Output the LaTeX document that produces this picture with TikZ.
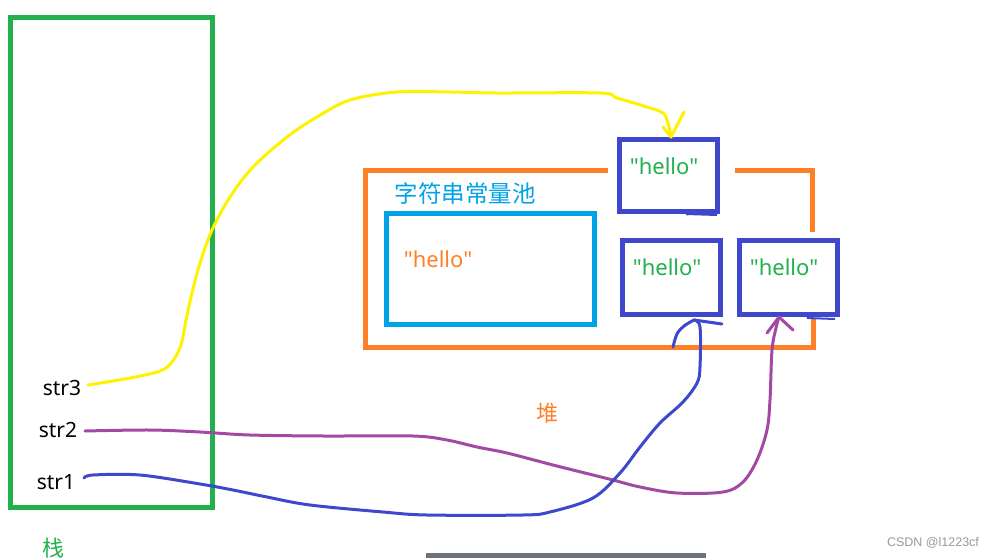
\documentclass[tikz,border=0pt]{standalone}
\usepackage{fontspec}
\setmainfont{Noto Sans}[Ligatures=TeXOff]
\newfontfamily\cjk{Noto Sans CJK SC}
\newfontfamily\wm{Liberation Sans}
\definecolor{cgreen}{HTML}{22B14C}
\definecolor{corange}{HTML}{FF7F27}
\definecolor{ccyan}{HTML}{00A2E8}
\definecolor{cblue}{HTML}{3F48CC}
\definecolor{cpurple}{HTML}{A349A4}
\definecolor{cyellow}{HTML}{FFF200}
\definecolor{cgray}{HTML}{6E7279}
\begin{document}
\begin{tikzpicture}[x=1pt,y=-1pt,
  objbox/.style={draw=cblue,line width=5pt,fill=white,rectangle,inner sep=0pt,minimum width=98pt,minimum height=72pt},
  hellotxt/.style={text=cgreen,font=\fontsize{22}{26}\selectfont,anchor=base,inner sep=0pt},
  strtxt/.style={text=black,font=\fontsize{21}{25}\selectfont,anchor=base,inner sep=0pt},
  cjktxt/.style={font=\cjk\fontsize{22}{26}\selectfont,inner sep=0pt},
  curve/.style={line width=3pt,line cap=round,line join=round}]
\useasboundingbox (0,0) rectangle (996,558);

% stack
\node[draw=cgreen,line width=5pt,rectangle,inner sep=0pt,minimum width=202pt,minimum height=490pt] (stack) at (111,262) {};
\node[cjktxt,text=cgreen] (zhan) at (53,548) {栈};
\node[strtxt] (s3) at (62,395) {str3};
\node[strtxt] (s2) at (58,437) {str2};
\node[strtxt] (s1) at (56,489) {str1};

% heap outline with gaps
\draw[corange,line width=5pt,line join=miter] (608,170) -- (365,170) -- (365,347) -- (813,347) -- (813,318);
\draw[corange,line width=5pt,line join=miter] (735,170) -- (812,170) -- (812,232);
\node[cjktxt,text=corange] (dui) at (547,413) {堆};

% constant pool
\node[cjktxt,text=ccyan,font=\cjk\fontsize{23.5}{27}\selectfont] (pooltitle) at (465,193) {字符串常量池};
\node[draw=ccyan,line width=5pt,rectangle,inner sep=0pt,minimum width=208pt,minimum height=111pt] (pool) at (490,269) {};
\node[hellotxt,text=corange] (ph) at (438,267) {"hello"};

% objects
\node[objbox] (o3) at (668.5,175) {};
\node[objbox,minimum height=74pt] (o1) at (671.5,277.5) {};
\node[objbox,minimum height=74pt] (o2) at (788.5,277.5) {};
\node[hellotxt] (t3) at (664,174) {"hello"};
\node[hellotxt] (t1) at (667,275) {"hello"};
\node[hellotxt] (t2) at (784,275) {"hello"};
\draw[cblue,line width=2pt] (687,215) -- (690,212) (686,214) -- (717,215);
\draw[cblue,line width=2pt] (807,318) -- (810,316) (807,318) -- (835,319);

% bottom bar and watermark
\fill[cgray] (426,553) rectangle (706,558);
\node[text=gray!80,font=\wm\fontsize{12.5}{14}\selectfont,inner sep=0pt] (wm) at (933,543) {CSDN @l1223cf};

% str3 -> o3 (yellow)
\coordinate (y0) at (88,385);
\coordinate (ya) at (671,137);
\draw[cyellow,curve] plot[smooth,tension=0.55] coordinates {(y0) (130,378) (160,371) (172,362) (181,345) (186,320) (192,293) (200,263) (212,230) (230,197) (253,167) (287,137) (317,117) (350,100) (397,92) (450,92) (497,93) (600,93) (617,98) (647,107) (663,113) (668,123) (ya)};
\draw[cyellow,curve] (663,127) -- (ya) -- (684,112);

% str2 -> o2 (purple)
\coordinate (p0) at (85,431);
\coordinate (pa) at (779,317);
\draw[cpurple,curve] plot[smooth,tension=0.55] coordinates {(p0) (150,430) (200,432) (250,435) (325,436) (413,436) (447,440) (477,447) (507,453) (553,465) (593,475) (613,480) (640,487) (677,493) (723,492) (743,482) (757,460) (767,430) (770,400) (772,350) (776,328) (pa)};
\draw[cpurple,curve] (767,333) -- (pa) -- (793,330);

% str1 -> o1 (blue)
\coordinate (b0) at (84,478);
\coordinate (ba) at (694,320);
\draw[cblue,curve] plot[smooth,tension=0.55] coordinates {(b0) (93,475) (140,475) (200,484) (233,490) (267,497) (310,505) (383,512) (427,515) (523,515) (550,512) (593,498) (620,473) (640,447) (660,423) (683,402) (697,383) (700,367) (700,327) (ba)};
\draw[cblue,curve] plot[smooth,tension=0.6] coordinates {(673,347) (677,334) (684,326) (ba)} -- (722,324);
\end{tikzpicture}
\end{document}
